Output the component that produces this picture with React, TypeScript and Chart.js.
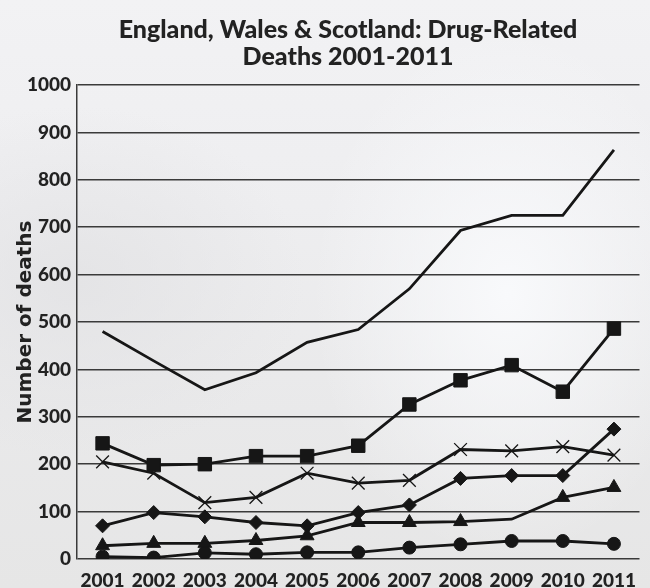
import React, { useEffect, useRef } from 'react';
import { Chart, registerables } from 'chart.js';

Chart.register(...registerables);

const years = ['2001', '2002', '2003', '2004', '2005', '2006', '2007', '2008', '2009', '2010', '2011'];
const totalDeaths = [480, 418, 357, 393, 457, 484, 570, 693, 725, 725, 863];
const squareSeries = [244, 198, 200, 217, 217, 239, 326, 377, 409, 353, 486];
const crossSeries = [205, 181, 119, 130, 181, 160, 166, 231, 228, 237, 219];
const diamondSeries = [70, 98, 89, 77, 70, 98, 114, 170, 176, 176, 274];
const triangleSeries = [28, 33, 33, 39, 49, 77, 77, 79, 84, 130, 151];
const circleSeries = [5, 3, 13, 10, 14, 14, 24, 31, 38, 38, 32];
const triangleShown = [1, 1, 1, 1, 1, 1, 1, 1, 0, 1, 1];

const titleLines = ['England, Wales & Scotland: Drug-Related', 'Deaths 2001-2011'];
const yTitle = 'Number of deaths';

const INK = '#161616';

const titlePlugin = {
  id: 'customTitle',
  afterDraw(chart: any) {
    const ctx = chart.ctx;
    ctx.save();
    ctx.fillStyle = '#222222';
    ctx.font = '900 25px Lato';
    ctx.textAlign = 'center';
    ctx.textBaseline = 'alphabetic';
    ctx.fillText(titleLines[0], 348, 38);
    ctx.fillText(titleLines[1], 348, 65);
    ctx.restore();
  },
};

export default function App() {
  const ref = useRef<HTMLCanvasElement | null>(null);

  useEffect(() => {
    if (!ref.current) return;
    const base = {
      borderColor: INK,
      backgroundColor: INK,
      pointBackgroundColor: INK,
      pointBorderColor: INK,
      borderWidth: 2.8,
      pointBorderWidth: 1,
      tension: 0,
      fill: false,
    };
    const chart = new Chart(ref.current, {
      type: 'line',
      data: {
        labels: years,
        datasets: [
          { ...base, label: 'Total', data: totalDeaths, pointRadius: 0, pointHoverRadius: 0 },
          { ...base, label: 'Squares', data: squareSeries, pointStyle: 'rect', pointRadius: 9.5 },
          { ...base, label: 'Crosses', data: crossSeries, pointStyle: 'crossRot', pointRadius: 9, pointBorderWidth: 1.3 },
          { ...base, label: 'Diamonds', data: diamondSeries, pointStyle: 'rectRot', pointRadius: 7 },
          {
            ...base,
            label: 'Triangles',
            data: triangleSeries,
            pointStyle: 'triangle',
            pointRadius: triangleShown.map((s) => (s ? 8 : 0)),
          },
          { ...base, label: 'Circles', data: circleSeries, pointStyle: 'circle', pointRadius: 6.5 },
        ],
      },
      options: {
        responsive: false,
        animation: false,
        layout: { padding: { top: 85, right: 1, left: 0, bottom: 0 } },
        plugins: {
          legend: { display: false },
          title: { display: false },
          tooltip: { enabled: false },
        },
        scales: {
          x: {
            offset: true,
            grid: { display: false, drawTicks: false },
            border: { display: false },
            ticks: {
              color: '#222222',
              font: { family: 'Lato', weight: '900', size: 19 },
              padding: 10,
              maxRotation: 0,
              autoSkip: false,
            },
            afterFit: (s: any) => {
              s.height = 29;
            },
          },
          y: {
            min: 0,
            max: 1000,
            ticks: {
              stepSize: 100,
              color: '#222222',
              font: { family: 'Lato', weight: '900', size: 19 },
              padding: 6,
              callback: (v: any) => String(v),
            },
            grid: { color: '#3a3a3a', lineWidth: 1.5, drawTicks: false },
            border: { display: true, color: '#3a3a3a', width: 1.5 },
            title: {
              display: true,
              text: yTitle,
              color: '#222222',
              font: { family: 'DejaVu Sans', weight: 'bold', size: 20 },
              padding: { top: 13.5, bottom: 0 },
            },
            afterFit: (s: any) => {
              s.width = 77;
            },
          },
        },
      },
      plugins: [titlePlugin],
    });
    return () => chart.destroy();
  }, []);

  return (
    <div
      style={{
        position: 'absolute',
        left: 0,
        top: 0,
        width: 650,
        height: 588,
        background:
          'radial-gradient(ellipse 30% 45% at 78% 50%, rgba(249,250,252,0.95) 0%, rgba(249,250,252,0) 100%), radial-gradient(ellipse 35% 30% at 12% 48%, rgba(226,226,228,0.8) 0%, rgba(226,226,228,0) 100%), linear-gradient(to bottom, #f2f2f4 0%, #eeeef0 35%, #e9e9ea 70%, #e6e6e6 100%)',
      }}
    >
      <canvas ref={ref} width={650} height={588} style={{ display: 'block' }} />
    </div>
  );
}
